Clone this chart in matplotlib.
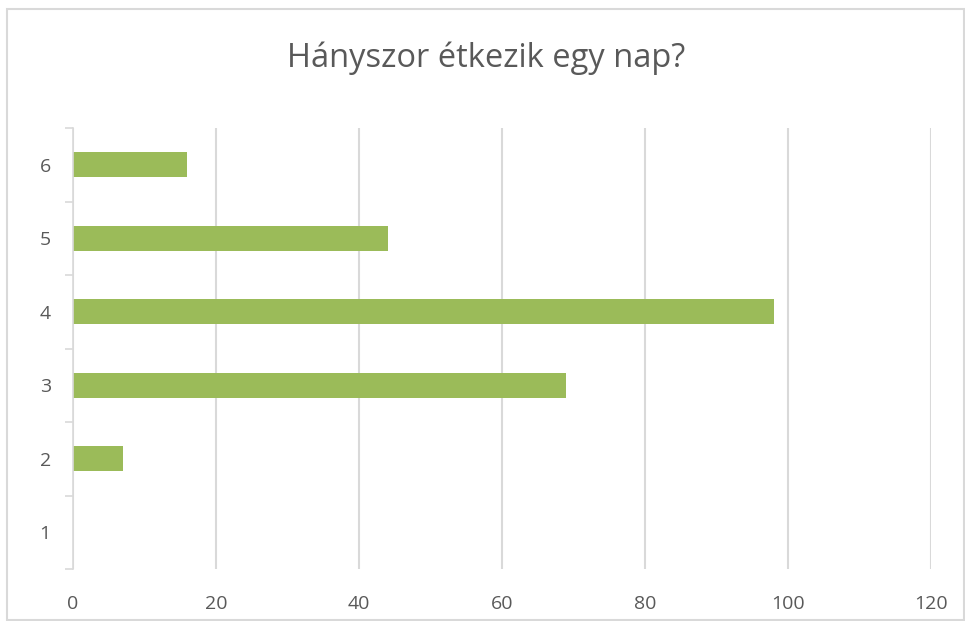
import matplotlib
matplotlib.use("Agg")
import matplotlib.pyplot as plt
from matplotlib.patches import Rectangle

categories = ["1", "2", "3", "4", "5", "6"]
values = [0, 7, 69, 98, 44, 16]
xticks = [0, 20, 40, 60, 80, 100, 120]
title = "Hányszor étkezik egy nap?"

plt.rcParams['font.family'] = ['Open Sans', 'DejaVu Sans']

W, H = 965, 621
fig = plt.figure(figsize=(W / 100, H / 100), dpi=100)
ax = fig.add_axes([73 / W, 1 - 569 / H, (931 - 73) / W, (569 - 128) / H])

pos = list(range(len(categories)))
ax.barh(pos, values, height=0.34, color="#9BBB59", zorder=3)
ax.set_xlim(0, 120)
ax.set_ylim(-0.5, len(categories) - 0.5)

ax.set_xticks(xticks)
ax.set_xticklabels([str(v) for v in xticks])
ax.set_yticks(pos)
ax.set_yticklabels(categories)
ax.set_yticks([p - 0.5 for p in range(len(categories) + 1)], minor=True)

ax.grid(axis="x", color="#D9D9D9", linewidth=1.5, zorder=0)
ax.tick_params(axis="x", length=0, pad=19, labelsize=14, labelcolor="#595959")
ax.tick_params(axis="y", which="major", length=0, pad=16, labelsize=14, labelcolor="#595959")
ax.tick_params(axis="y", which="minor", length=6, width=1.2, color="#D9D9D9")

for s in ["top", "right", "bottom"]:
    ax.spines[s].set_visible(False)
ax.spines["left"].set_color("#D9D9D9")
ax.spines["left"].set_linewidth(1.2)
ax.spines["left"].set_zorder(4)

fig.text(486 / W, 1 - 58 / H, title, ha="center", va="center", fontsize=23.5, color="#595959")

fig.patches.append(Rectangle((7 / W, 1 / H), (W - 8) / W, (H - 10) / H,
                             transform=fig.transFigure, fill=False,
                             edgecolor="#D9D9D9", linewidth=1.5))

fig.savefig("out.png", dpi=100)
